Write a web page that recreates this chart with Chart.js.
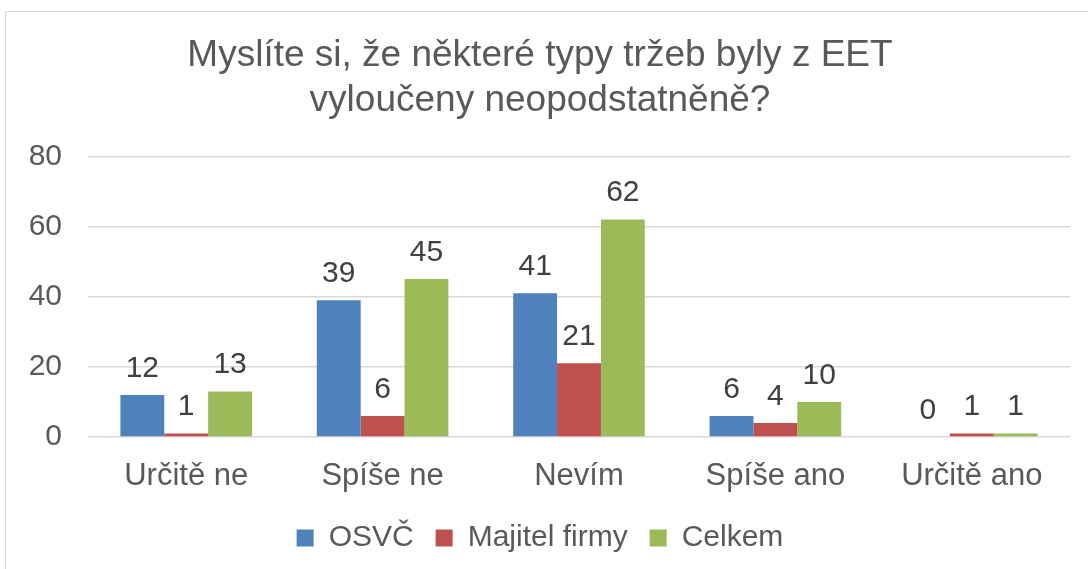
<!DOCTYPE html>
<html>
<head>
<meta charset="utf-8">
<script src="https://cdn.jsdelivr.net/npm/chart.js@4"></script>
<style>
  html, body { margin: 0; padding: 0; background: #fff; }
  #wrap { position: relative; width: 1088px; height: 569px; overflow: hidden; }
  #frame { position: absolute; left: 5px; top: 11px; width: 1100px; height: 600px; border: 1.5px solid #d9d9d9; box-sizing: border-box; }
  #chart { position: absolute; left: 0; top: 0; }
</style>
</head>
<body>
<div id="wrap">
  <div id="frame"></div>
  <canvas id="chart" width="1088" height="569"></canvas>
</div>
<script>
// Chart data
const categories = ["Určitě ne", "Spíše ne", "Nevím", "Spíše ano", "Určitě ano"];
const osvc = [12, 39, 41, 6, 0];
const majitel = [1, 6, 21, 4, 1];
const celkem = [13, 45, 62, 10, 1];
const yTicks = [0, 20, 40, 60, 80];

const FONT = "'Liberation Sans', Arial, sans-serif";

// Draw value labels above each bar
const valueLabels = {
  id: "valueLabels",
  afterDatasetsDraw(chart) {
    const ctx = chart.ctx;
    ctx.save();
    ctx.font = "30px " + FONT;
    ctx.fillStyle = "#404040";
    ctx.textAlign = "center";
    ctx.textBaseline = "alphabetic";
    chart.data.datasets.forEach((ds, i) => {
      const meta = chart.getDatasetMeta(i);
      meta.data.forEach((bar, j) => {
        ctx.fillText(String(ds.data[j]), bar.x, bar.y - 18);
      });
    });
    ctx.restore();
  },
};

new Chart(document.getElementById("chart"), {
  type: "bar",
  data: {
    labels: categories,
    datasets: [
      { label: "OSVČ", data: osvc, backgroundColor: "#4F81BD" },
      { label: "Majitel firmy", data: majitel, backgroundColor: "#C0504D" },
      { label: "Celkem", data: celkem, backgroundColor: "#9BBB59" },
    ],
  },
  options: {
    responsive: false,
    animation: false,
    layout: { padding: { left: 10, right: 18, top: 0, bottom: 6 } },
    datasets: { bar: { barPercentage: 1, categoryPercentage: 0.67 } },
    plugins: {
      title: {
        display: true,
        text: ["Myslíte si, že některé typy tržeb byly z EET", "vyloučeny neopodstatněně?"],
        color: "#595959",
        font: { family: FONT, size: 37, weight: "normal", lineHeight: 1.22 },
        padding: { top: 33, bottom: 33 },
      },
      legend: {
        position: "bottom",
        labels: {
          color: "#595959",
          font: { family: FONT, size: 30 },
          boxWidth: 17,
          boxHeight: 17,
          padding: 22,
        },
      },
      tooltip: { enabled: false },
    },
    scales: {
      y: {
        min: 0,
        max: 80,
        afterBuildTicks: (scale) => { scale.ticks = yTicks.map((v) => ({ value: v })); },
        afterFit: (scale) => { scale.width = 78; },
        grid: { color: "#d9d9d9", lineWidth: 1.5, drawTicks: false },
        border: { display: false },
        ticks: { color: "#595959", font: { family: FONT, size: 30 }, padding: 26 },
      },
      x: {
        afterFit: (scale) => { scale.height = 64; },
        grid: { display: false },
        border: { display: false },
        ticks: { color: "#595959", font: { family: FONT, size: 31 }, padding: 13 },
      },
    },
  },
  plugins: [valueLabels],
});
</script>
</body>
</html>
